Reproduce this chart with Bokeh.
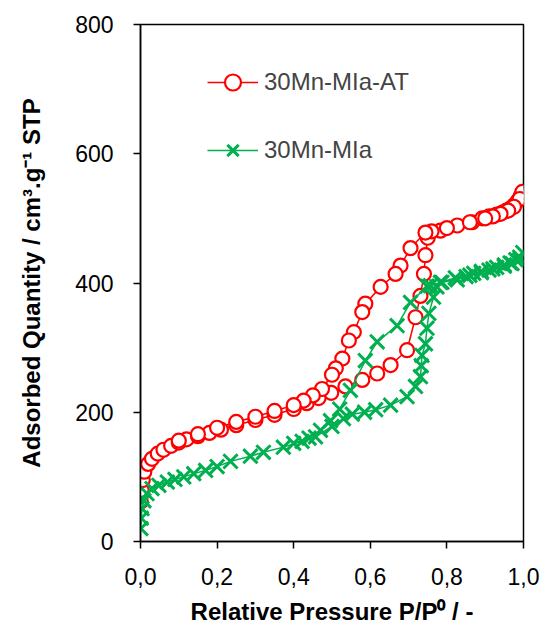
from bokeh.plotting import figure
from bokeh.models import (ColumnDataSource, FixedTicker, CustomJSTickFormatter,
                          Legend, LegendItem, Range1d)
from bokeh.embed import file_html
from bokeh.resources import INLINE

# ---------------- data ----------------
at_ads_x = [0.001, 0.003, 0.006, 0.01, 0.02, 0.03, 0.045, 0.06, 0.08, 0.1, 0.12, 0.15, 0.18,
            0.21, 0.25, 0.3, 0.35, 0.4, 0.434, 0.465, 0.498, 0.535, 0.579, 0.618, 0.653,
            0.696, 0.718, 0.731, 0.74, 0.744, 0.75, 0.783, 0.827, 0.866, 0.892, 0.91, 0.93,
            0.945, 0.955, 0.965, 0.975, 0.985, 0.992, 0.997]
at_ads_y = [62, 80, 95, 108, 120, 128, 136, 142, 148, 153, 158, 163, 168,
            173, 180, 188, 196, 205, 214, 222, 230, 240, 250, 260, 273,
            296, 347, 380, 414, 443, 470, 481, 489, 494, 500, 503, 506,
            509, 512, 515, 520, 527, 534, 541]
at_des_x = [0.99, 0.975, 0.96, 0.94, 0.92, 0.9, 0.86, 0.8, 0.76, 0.744, 0.705, 0.679, 0.666,
            0.627, 0.587, 0.579, 0.557, 0.544, 0.527, 0.51, 0.5, 0.474, 0.45, 0.426, 0.4,
            0.35, 0.3, 0.25, 0.2, 0.15, 0.1]
at_des_y = [530, 518, 512, 507, 503, 500, 494, 485, 480, 478, 454, 427, 414,
            394, 368, 355, 324, 311, 283, 268, 258, 236, 226, 218, 211,
            202, 193, 185, 176, 166, 156]

mia_ads_x = [0.001, 0.002, 0.004, 0.009, 0.017, 0.03, 0.048, 0.07, 0.09, 0.113, 0.139, 0.17,
             0.2, 0.235, 0.287, 0.321, 0.373, 0.422, 0.457, 0.5, 0.53, 0.553, 0.585, 0.614,
             0.653, 0.696, 0.718, 0.731, 0.733, 0.735, 0.744, 0.748, 0.753, 0.765, 0.774,
             0.787, 0.827, 0.85, 0.87, 0.89, 0.91, 0.93, 0.95, 0.965, 0.98, 0.99, 0.998]
mia_ads_y = [20, 36, 51, 63, 74, 82, 87, 92, 96, 100, 105, 110,
             116, 124, 132, 138, 146, 155, 162, 178, 190, 197, 200, 204,
             211, 224, 240, 255, 272, 288, 306, 330, 353, 378, 394,
             401, 405, 410, 415, 418, 420, 424, 428, 431, 436, 440, 447]
mia_des_x = [0.99, 0.97, 0.95, 0.92, 0.89, 0.86, 0.822, 0.783, 0.757, 0.748, 0.705, 0.67,
             0.618, 0.587, 0.548, 0.52, 0.496, 0.47, 0.44, 0.4]
mia_des_y = [436, 430, 426, 422, 416, 412, 408, 401, 396, 395, 370, 334,
             309, 280, 234, 205, 187, 172, 160, 152]

x_ticks = [0.0, 0.2, 0.4, 0.6, 0.8, 1.0]
y_ticks = [0, 200, 400, 600, 800]
labels = ["30Mn-MIa-AT", "30Mn-MIa"]

RED = "#FF0000"
GREEN = "#00B050"
FONT = "Liberation Sans"

src_at = ColumnDataSource(dict(x=at_ads_x + at_des_x, y=at_ads_y + at_des_y))
src_mia = ColumnDataSource(dict(x=mia_ads_x + mia_des_x, y=mia_ads_y + mia_des_y))

p = figure(width=546, height=630, output_backend="svg", toolbar_location=None,
           x_range=Range1d(0, 1), y_range=Range1d(0, 800),
           min_border_left=140, min_border_right=23, min_border_top=24, min_border_bottom=89)
p.xgrid.visible = False
p.ygrid.visible = False
p.outline_line_color = "black"
p.outline_line_width = 1.5
p.background_fill_color = "white"
p.border_fill_color = "white"

l1 = p.line("x", "y", source=src_at, line_color=RED, line_width=1.5)
s1 = p.scatter("x", "y", source=src_at, marker="circle", size=14,
               line_color=RED, fill_color="white", line_width=2.2)
l2 = p.line("x", "y", source=src_mia, line_color=GREEN, line_width=1.5)
s2 = p.scatter("x", "y", source=src_mia, marker="x", size=20,
               line_color=GREEN, line_width=3)

for ax in (p.xaxis[0], p.yaxis[0]):
    ax.axis_line_width = 1.5
    ax.axis_line_color = "black"
    ax.major_tick_line_width = 1.5
    ax.major_tick_line_color = "black"
    ax.major_tick_in = 0
    ax.major_tick_out = 7
    ax.minor_tick_line_color = None
    ax.major_label_text_font = FONT
    ax.major_label_text_font_size = "23px"
    ax.major_label_text_color = "black"
    ax.axis_label_text_font = FONT
    ax.axis_label_text_font_size = "24px"
    ax.axis_label_text_font_style = "bold"
    ax.axis_label_text_color = "black"

p.xaxis.ticker = FixedTicker(ticks=x_ticks)
p.yaxis.ticker = FixedTicker(ticks=y_ticks)
p.xaxis.formatter = CustomJSTickFormatter(code="return tick.toFixed(1).replace('.', ',');")
p.xaxis.axis_label = "Relative Pressure P/P\u2070 / -"
p.yaxis.axis_label = "Adsorbed Quantity / cm\u00b3.g\u207b\u00b9 STP"
p.xaxis.major_label_standoff = 19
p.xaxis.axis_label_standoff = 10
p.yaxis.major_label_standoff = 20
p.yaxis.axis_label_standoff = 27

legend = Legend(items=[LegendItem(label=labels[0], renderers=[l1, s1]),
                       LegendItem(label=labels[1], renderers=[l2, s2])],
                location=(67, 371), padding=0, margin=0, spacing=28,
                glyph_width=51, glyph_height=40, label_height=40, label_standoff=6,
                label_text_font=FONT, label_text_font_size="24px",
                background_fill_alpha=0, border_line_alpha=0)
p.add_layout(legend)

open("out.html", "w").write(file_html(p, INLINE))
